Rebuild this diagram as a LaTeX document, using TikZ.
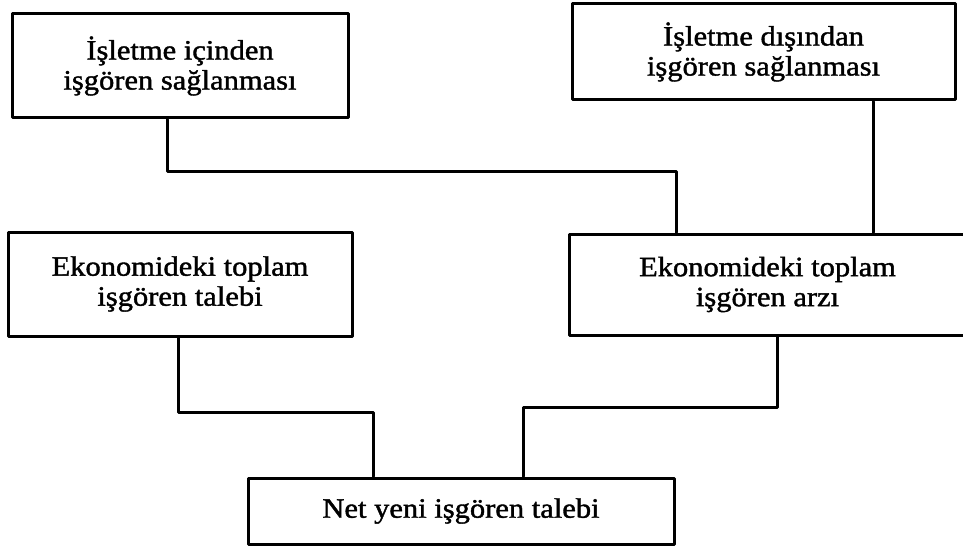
\documentclass[tikz,border=0pt]{standalone}
\usepackage{fontspec}
\setmainfont{Liberation Serif}[FakeStretch=1.09,FakeBold=1.4]
\usepackage{tikz}

\tikzset{kutu/.style={draw=black,line width=3pt,rectangle,align=center,inner sep=0pt,
  font=\fontsize{28}{30}\selectfont}}

\begin{document}
\begin{tikzpicture}[line cap=round,line join=round,x=1pt,y=-1pt]
\clip (0,0) rectangle (963,548);
% kutular
\node[kutu,minimum width=336pt,minimum height=104pt] (ici) at (180,66) {İşletme içinden\\işgören sağlanması};
\node[kutu,minimum width=383pt,minimum height=96pt] (dis) at (763.5,52) {İşletme dışından\\işgören sağlanması};
\node[kutu,minimum width=344pt,minimum height=104pt] (talep) at (180,284) {Ekonomideki toplam\\işgören talebi};
\node[kutu,minimum width=397pt,minimum height=101pt] (arz) at (767.5,284.5) {Ekonomideki toplam\\işgören arzı};
\node[kutu,minimum width=426pt,minimum height=66pt] (net) at (461,511) {Net yeni işgören talebi};
% baglantilar
\draw[line width=3pt] ([xshift=-13pt]ici.south) -- ++(0,52) -| ([xshift=-91.5pt]arz.north);
\draw[line width=3pt] ([xshift=109.5pt]dis.south) -- ([xshift=109.5pt]dis.south |- arz.north);
\draw[line width=3pt] ([xshift=-2pt]talep.south) -- ++(0,75) -| ([xshift=-88pt]net.north);
\draw[line width=3pt] ([xshift=9.5pt]arz.south) -- ++(0,71) -| ([xshift=62pt]net.north);
\end{tikzpicture}
\end{document}
